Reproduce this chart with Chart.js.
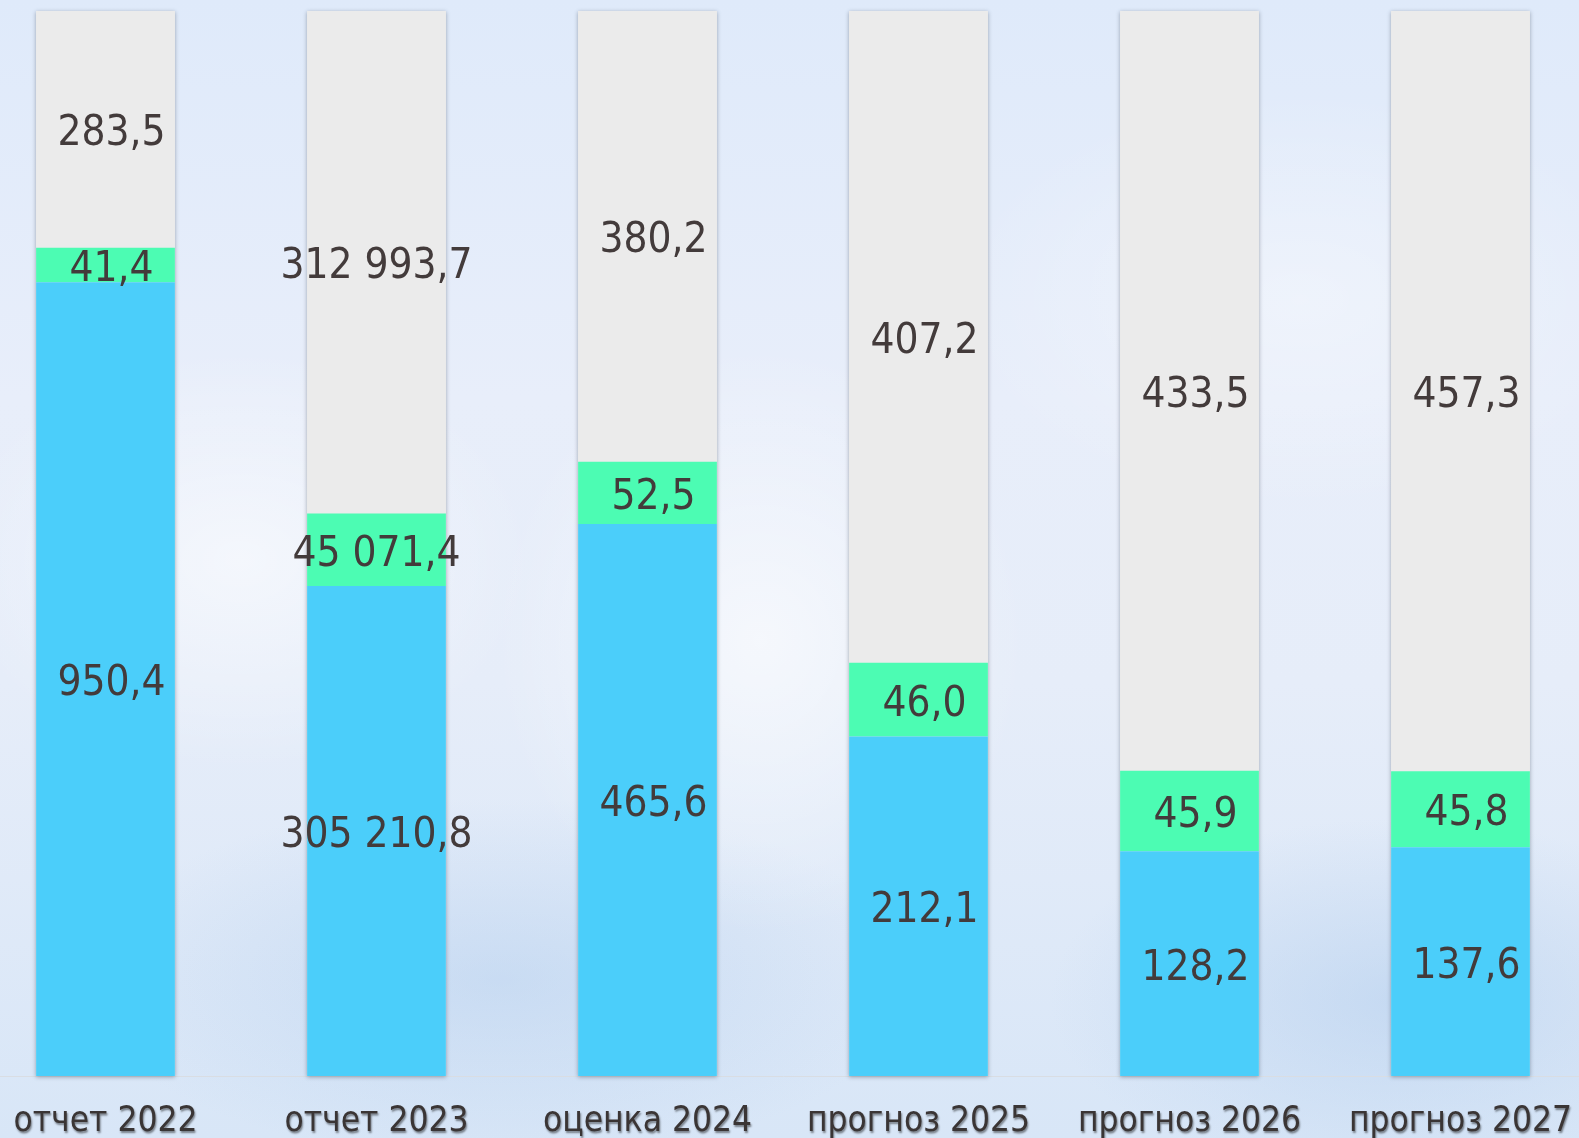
<!DOCTYPE html>
<html>
<head>
<meta charset="utf-8">
<script src="https://cdn.jsdelivr.net/npm/chart.js@4.4.0/dist/chart.umd.min.js"></script>
<style>
  html, body { margin: 0; padding: 0; width: 1579px; height: 1138px; overflow: hidden; }
  body {
    position: relative;
    background:
      radial-gradient(ellipse 420px 300px at 240px 560px, rgba(255,255,255,0.55), rgba(255,255,255,0) 70%),
      radial-gradient(ellipse 380px 420px at 760px 640px, rgba(255,255,255,0.6), rgba(255,255,255,0) 70%),
      radial-gradient(ellipse 500px 300px at 1300px 300px, rgba(255,255,255,0.35), rgba(255,255,255,0) 70%),
      radial-gradient(ellipse 600px 260px at 500px 980px, rgba(170,200,235,0.4), rgba(170,200,235,0) 70%),
      radial-gradient(ellipse 500px 260px at 1400px 1000px, rgba(170,200,235,0.45), rgba(170,200,235,0) 70%),
      linear-gradient(180deg, #dfeafa 0%, #e8eefa 35%, #e6edf9 60%, #d8e6f7 100%);
  }
  #wrap { position: absolute; left: -30px; top: 0; width: 1626px; height: 1138px; }
</style>
</head>
<body>
<div id="wrap"><canvas id="chart"></canvas></div>
<script>
// categories and raw values (shown as labels); bars are drawn as shares of 100%
const categories = ['отчет 2022', 'отчет 2023', 'оценка 2024', 'прогноз 2025', 'прогноз 2026', 'прогноз 2027'];
const blueValues  = [950.4, 305210.8, 465.6, 212.1, 128.2, 137.6];
const greenValues = [41.4, 45071.4, 52.5, 46.0, 45.9, 45.8];
const grayValues  = [283.5, 312993.7, 380.2, 407.2, 433.5, 457.3];

const totals = categories.map((c, i) => blueValues[i] + greenValues[i] + grayValues[i]);
const share = arr => arr.map((v, i) => v / totals[i] * 100);

const FONT = '"DejaVu Sans Condensed", "DejaVu Sans", Verdana, sans-serif';
const TEXT = '#433b3b';

function fmt(v) {
    return v.toLocaleString('ru-RU', { minimumFractionDigits: 1, maximumFractionDigits: 1 });
}

// shadow behind each full bar
const barShadow = {
    id: 'barShadow',
    beforeDatasetsDraw(chart) {
        const ctx = chart.ctx;
        const first = chart.getDatasetMeta(0).data;
        const last = chart.getDatasetMeta(chart.data.datasets.length - 1).data;
        ctx.save();
        ctx.shadowColor = 'rgba(60,70,90,0.45)';
        ctx.shadowBlur = 4;
        ctx.shadowOffsetY = 1;
        ctx.fillStyle = '#ebebeb';
        first.forEach((bar, i) => {
            const top = last[i].y;
            const w = bar.width;
            ctx.fillRect(bar.x - w / 2, top, w, bar.base - top);
        });
        ctx.restore();
    }
};

// value labels centred in segments + category labels with shadow
const labelsPlugin = {
    id: 'labelsPlugin',
    afterDatasetsDraw(chart) {
        const ctx = chart.ctx;
        ctx.save();
        ctx.font = '42px ' + FONT;
        ctx.fillStyle = TEXT;
        ctx.textAlign = 'center';
        ctx.textBaseline = 'middle';
        chart.data.datasets.forEach((ds, di) => {
            chart.getDatasetMeta(di).data.forEach((bar, i) => {
                const v = ds.raw[i];
                const dx = v < 1000 ? 6 : 0;
                ctx.fillText(fmt(v), bar.x + dx, (bar.y + bar.base) / 2 + 5);
            });
        });
        ctx.restore();
    },
    afterDraw(chart) {
        const ctx = chart.ctx;
        const x = chart.scales.x;
        ctx.save();
        ctx.font = '35px ' + FONT;
        ctx.fillStyle = '#3a3535';
        ctx.textAlign = 'center';
        ctx.textBaseline = 'middle';
        ctx.shadowColor = 'rgba(0,0,0,0.45)';
        ctx.shadowBlur = 2;
        ctx.shadowOffsetX = 1;
        ctx.shadowOffsetY = 2;
        categories.forEach((c, i) => {
            ctx.fillText(c, x.getPixelForValue(i), chart.chartArea.bottom + 46);
        });
        ctx.restore();
    }
};

new Chart(document.getElementById('chart'), {
    type: 'bar',
    data: {
        labels: categories,
        datasets: [
            { label: 'blue', data: share(blueValues), raw: blueValues, backgroundColor: '#4bcefa' },
            { label: 'green', data: share(greenValues), raw: greenValues, backgroundColor: '#4cfcb3' },
            { label: 'gray', data: share(grayValues), raw: grayValues, backgroundColor: '#ebebeb' }
        ]
    },
    options: {
        responsive: true,
        maintainAspectRatio: false,
        animation: false,
        layout: { padding: { top: 11, bottom: 54, left: 0, right: 0 } },
        datasets: { bar: { barPercentage: 0.512, categoryPercentage: 1, borderWidth: 0 } },
        plugins: { legend: { display: false }, tooltip: { enabled: false } },
        scales: {
            x: {
                stacked: true,
                ticks: { display: false },
                grid: { display: false },
                border: { display: true, color: '#d9dde3', width: 1 }
            },
            y: {
                stacked: true,
                display: false,
                min: 0,
                max: 100
            }
        }
    },
    plugins: [barShadow, labelsPlugin]
});
</script>
</body>
</html>
